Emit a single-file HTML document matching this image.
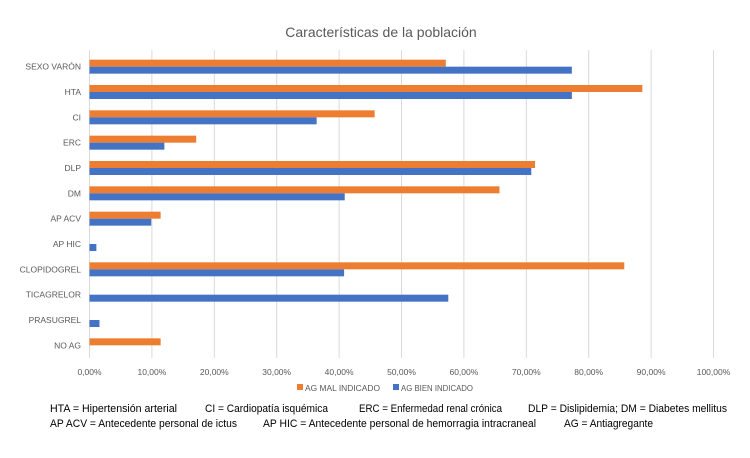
<!DOCTYPE html>
<html><head><meta charset="utf-8"><style>
body{margin:0;background:#fff;font-family:"Liberation Sans",sans-serif;}
svg text{font-family:"Liberation Sans",sans-serif;}
</style></head><body>
<svg width="750" height="453" viewBox="0 0 750 453">
<rect width="750" height="453" fill="#fff"/>
<text x="381" y="37" text-anchor="middle" font-size="14" fill="#595959">Características de la población</text>
<g id="grid"></g><g id="bars"></g><g id="ylab"></g><g id="xlab"></g>
<g>
<rect x="297" y="384" width="6" height="6" fill="#ED7D31"/>
<text x="305" y="391" font-size="8.5" fill="#595959" textLength="75" lengthAdjust="spacingAndGlyphs">AG MAL INDICADO</text>
<rect x="393" y="384" width="6" height="6" fill="#4472C4"/>
<text x="401" y="391" font-size="8.5" fill="#595959" textLength="72" lengthAdjust="spacingAndGlyphs">AG BIEN INDICADO</text>
</g>
<g font-size="11" fill="#000">
<text x="50" y="412" textLength="127" lengthAdjust="spacingAndGlyphs">HTA = Hipertensión arterial</text>
<text x="205" y="412" textLength="123" lengthAdjust="spacingAndGlyphs">CI = Cardiopatía isquémica</text>
<text x="359" y="412" textLength="143" lengthAdjust="spacingAndGlyphs">ERC = Enfermedad renal crónica</text>
<text x="528" y="412" textLength="199" lengthAdjust="spacingAndGlyphs">DLP = Dislipidemia; DM = Diabetes mellitus</text>
<text x="50" y="427" textLength="187" lengthAdjust="spacingAndGlyphs">AP ACV = Antecedente personal de ictus</text>
<text x="263" y="427" textLength="273" lengthAdjust="spacingAndGlyphs">AP HIC = Antecedente personal de hemorragia intracraneal</text>
<text x="564" y="427" textLength="89" lengthAdjust="spacingAndGlyphs">AG = Antiagregante</text>
</g>
</svg>
<script>
const categories=["SEXO VARÓN","HTA","CI","ERC","DLP","DM","AP ACV","AP HIC","CLOPIDOGREL","TICAGRELOR","PRASUGREL","NO AG"];
const malIndicado=[57.1,88.6,45.7,17.1,71.4,65.7,11.4,0,85.7,0,0,11.4];
const bienIndicado=[77.3,77.3,36.4,12.0,70.8,40.9,9.9,1.1,40.8,57.5,1.6,0];
const xTicks=[0,10,20,30,40,50,60,70,80,90,100];
const NS="http://www.w3.org/2000/svg";
const X0=89.5,X1=713.5,PTOP=54,PBOT=358;
const xs=v=>X0+(X1-X0)*v/100;
const band=(PBOT-PTOP)/categories.length;
const yc=i=>PTOP+band*(i+0.5);
function mk(t,a,p){const e=document.createElementNS(NS,t);for(const k in a)e.setAttribute(k,a[k]);document.getElementById(p).appendChild(e);return e;}
xTicks.forEach(t=>{
 const l=mk('line',{x1:xs(t),x2:xs(t),y1:PTOP-4,y2:PBOT,stroke:'#d9d9d9','stroke-width':1},'grid');
 
 
 const tx=mk('text',{x:xs(t),y:375,'text-anchor':'middle','font-size':'8.5',fill:'#595959'},'xlab');
 tx.textContent=t.toFixed(2).replace('.',',')+'%';
 
 
});
categories.forEach((c,i)=>{
 const y=yc(i);
 const tl=mk('text',{x:81,y:y+3,'text-anchor':'end','font-size':'8.5',fill:'#595959'},'ylab');
 tl.textContent=c;
 
 
 if(malIndicado[i]>0){const r=mk('rect',{x:X0,y:y-7,width:xs(malIndicado[i])-X0,height:7,fill:'#ED7D31'},'bars');
 
 }
 if(bienIndicado[i]>0){const r=mk('rect',{x:X0,y:y,width:xs(bienIndicado[i])-X0,height:7,fill:'#4472C4'},'bars');
 
 }
});
</script>
</body></html>
